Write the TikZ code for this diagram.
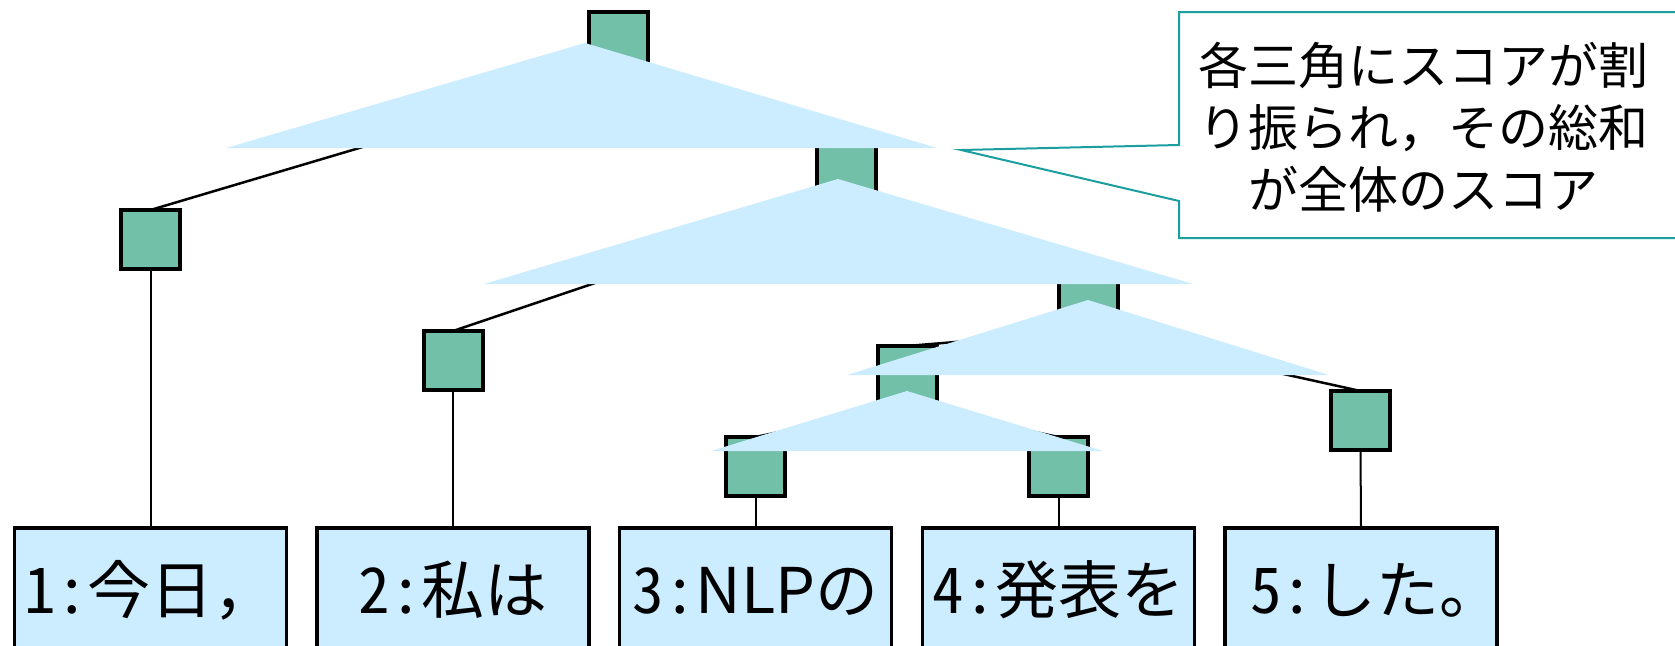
\documentclass[tikz,border=0pt]{standalone}
\usepackage{fontspec}
\newfontfamily\jpfont{Noto Sans CJK JP}
\newfontfamily\jphalf[RawFeature=+hwid]{Noto Sans CJK JP}
\newcommand\hw[1]{{\jphalf #1}}
\definecolor{leafblue}{HTML}{CCECFF}
\definecolor{nodegreen}{HTML}{72C0A8}
\definecolor{noteteal}{HTML}{1A9E9E}

\begin{document}
\begin{tikzpicture}[x=1pt,y=-1pt,
  sq/.style={draw=black, line width=4pt, fill=nodegreen, minimum size=59pt, inner sep=0pt, outer sep=0pt},
  word/.style={draw=black, line width=3.5pt, fill=leafblue, minimum width=272pt,
    inner sep=0pt, outer sep=0pt, text height=85pt, text depth=150pt, anchor=base,
    font=\jpfont\fontsize{63}{70}\selectfont},
  edge/.style={draw=black, line width=2.5pt},
  stem/.style={draw=black, line width=2pt},
  tri/.style={fill=leafblue}]
\useasboundingbox (0,0) rectangle (1675,645);
\clip (0,0) rectangle (1675,645);

% word boxes along the bottom
\node[word] (w1) at (150.5,613) {\hw{1:}今日，};
\node[word] (w2) at (453,613) {\hw{2:}私は};
\node[word] (w3) at (755.5,613) {\hw{3:}NLPの};
\node[word] (w4) at (1058.5,613) {\hw{4:}発表を};
\node[word] (w5) at (1361,613) {\makebox[0pt]{\hspace*{30pt}\hw{5:}した。}};

% tree nodes
\path (618.5,41.5) node[sq] (r) {}
      (846.5,168.5) node[sq] (a) {}
      (150.5,239.5) node[sq] (n1) {}
      (1088.5,301.5) node[sq] (b) {}
      (453,360.5) node[sq] (n2) {}
      (907,375.5) node[sq] (c) {}
      (1360.5,420.5) node[sq] (d) {}
      (755.5,466.5) node[sq] (e) {}
      (1058.5,466.5) node[sq] (f) {};

% edges: child top to parent bottom
\draw[edge] (n1.north) -- (r.south);
\draw[edge] (a.north) -- (r.south);
\draw[edge] (n2.north) -- (a.south);
\draw[edge] (b.north) -- (a.south);
\draw[edge] (c.north) -- (b.south);
\draw[edge] (d.north) -- (b.south);
\draw[edge] (e.north) -- (c.south);
\draw[edge] (f.north) -- (c.south);

% stems down to the words
\draw[stem] (n1.south) -- (w1.north);
\draw[stem] (n2.south) -- (w2.north);
\draw[stem] (e.south) -- (w3.north);
\draw[stem] (f.south) -- (w4.north);
\draw[stem] (d.south) -- (w5.north);

% redraw the squares over the edge ends
\path (618.5,41.5) node[sq] {}
      (846.5,168.5) node[sq] {}
      (150.5,239.5) node[sq] {}
      (1088.5,301.5) node[sq] {}
      (453,360.5) node[sq] {}
      (907,375.5) node[sq] {}
      (1360.5,420.5) node[sq] {}
      (755.5,466.5) node[sq] {}
      (1058.5,466.5) node[sq] {};

% score triangles over each subtree
\fill[tri] (585,43) -- (937,148) -- (226,148) -- cycle;
\fill[tri] (838,179) -- (1193,284) -- (484,284) -- cycle;
\fill[tri] (1088,300) -- (1329,375) -- (847,375) -- cycle;
\fill[tri] (907,391) -- (1103,451) -- (711,451) -- cycle;

% callout
\coordinate (tip) at (961,150);
\draw[noteteal, line width=2pt, fill=white]
  (1179,12) -- (1700,12) -- (1700,238) -- (1179,238) -- (1179,201)
  -- (tip) -- (1179,145) -- cycle;
\node[align=center, inner sep=0pt, font=\jpfont\fontsize{50}{62}\selectfont] (note)
  at (1423,127) {各三角にスコアが割\\り振られ，その総和\\が全体のスコア};
\end{tikzpicture}
\end{document}
